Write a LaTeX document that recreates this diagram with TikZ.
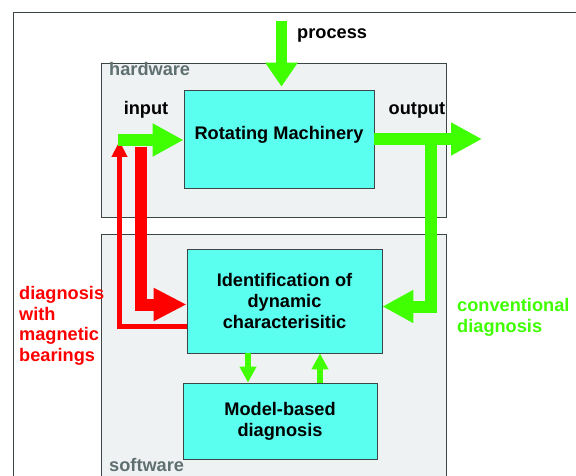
\documentclass[tikz,border=0pt]{standalone}
\usepackage{fontspec}
\setmainfont{Liberation Sans}
\usepackage{tikz}
\usetikzlibrary{arrows.meta}
\definecolor{cyanfill}{RGB}{90,255,240}
\definecolor{panelfill}{RGB}{239,242,243}
\definecolor{boxline}{RGB}{60,70,70}
\definecolor{labelgray}{RGB}{96,112,112}
\definecolor{sigreen}{RGB}{64,255,0}
\definecolor{sigred}{RGB}{255,0,0}
\newcommand{\labelfont}{\bfseries\fontsize{18.2}{20.8}\selectfont}
\tikzstyle{panel} = [
    draw=boxline, 
    fill=panelfill, 
    line width=0.8pt
]
\tikzstyle{block} = [
    rectangle, 
    draw=boxline, 
    fill=cyanfill, 
    line width=0.8pt, 
    inner sep=0pt, 
    align=center, 
    font=\labelfont
]
\tikzstyle{tag} = [
    inner sep=0pt, 
    font=\labelfont
]
\tikzstyle{greenarrow} = [
    draw=sigreen, 
    line width=12pt, 
    -{Triangle[length=31pt, width=31pt]}
]
\tikzstyle{smallgreen} = [
    draw=sigreen, 
    line width=6pt, 
    -{Triangle[length=16pt, width=16pt]}
]
\tikzstyle{redthick} = [
    draw=sigred, 
    line width=12pt, 
    -{Triangle[length=33pt, width=31pt]}
]
\tikzstyle{redthin} = [
    draw=sigred, 
    line width=5pt, 
    -{Triangle[length=16pt, width=15pt]}
]

\begin{document}
\begin{tikzpicture}[x=1pt, y=-1pt]
        \useasboundingbox (0,0) rectangle (576,476);
        \fill[white] (0,0) rectangle (576,476);
        \draw[boxline, line width=0.8pt] (13,12) rectangle (600,500);

        % hardware and software panels
        \draw[panel] (101,63) rectangle (446,217);
        \draw[panel] (101,234) rectangle (446,510);

        \node (rm) [block, minimum width=190pt, minimum height=98pt, text depth=12pt] at (279,139) {Rotating Machinery};
        \node (idn) [block, minimum width=195pt, minimum height=104pt] at (284.5,301) {Identification of\\dynamic\\characterisitic};
        \node (mb) [block, minimum width=194pt, minimum height=76pt] at (280,421) {Model-based\\diagnosis};

        \coordinate (proctop) at (281.5,21);
        \coordinate (inleft) at (118,140);
        \coordinate (outright) at (482,139);
        \coordinate (tee) at (430.5,139);
        \coordinate (redtop) at (141,147);
        \coordinate (fbtip) at (119.5,141);

        % magnetic bearing loop
        \draw[redthin] ([yshift=-25pt]idn.west) -| (fbtip);
        \draw[redthick] (redtop) |- ([yshift=-3.5pt]idn.west);

        % signal flow
        \draw[greenarrow, line width=11pt, -{Triangle[length=24pt, width=31pt]}, shorten >=3pt] (proctop) -- (rm.north -| proctop);
        \draw[greenarrow] (inleft) -- (rm.west |- inleft);
        \draw[greenarrow] (rm.east) -- (outright);
        \draw[greenarrow] (tee) |- ([yshift=-5.5pt]idn.east);
        \draw[smallgreen] ([xshift=-36.5pt]idn.south) -- ([xshift=-32pt]mb.north);
        \draw[smallgreen] ([xshift=40pt]mb.north) -- ([xshift=35.5pt]idn.south);

        \node (proclabel) [tag, anchor=mid west] at (297,35.5) {process};
        \node (hwlabel) [tag, anchor=mid west, text=labelgray] at (109,73) {hardware};
        \node (swlabel) [tag, anchor=mid west, text=labelgray] at (109,468.5) {software};
        \node (inlabel) [tag, anchor=mid] at (146,112) {input};
        \node (outlabel) [tag, anchor=mid] at (417,112) {output};
        \node (maglabel) [tag, anchor=north west, align=left, text=sigred] at (19,286) {diagnosis\\with\\magnetic\\bearings};
        \node (convlabel) [tag, anchor=north west, align=left, text=sigreen] at (457,298) {conventional\\diagnosis};
    \end{tikzpicture}
\end{document}
